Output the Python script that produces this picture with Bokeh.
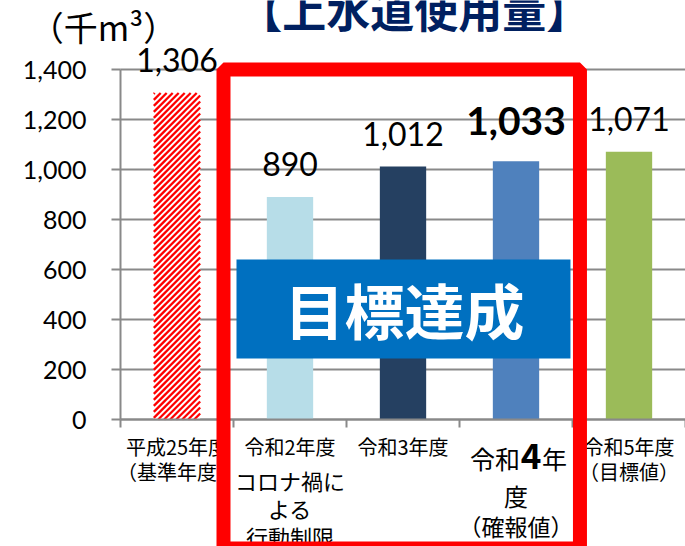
from bokeh.plotting import figure
from bokeh.models import (ColumnDataSource, Label, LabelSet, BoxAnnotation,
                          FixedTicker, NumeralTickFormatter)
from bokeh.core.properties import value
from bokeh.embed import file_html
from bokeh.resources import INLINE

# ---------------- data ----------------
categories = ["平成25年度", "令和2年度", "令和3年度", "令和4年度", "令和5年度"]
usage = [1306, 890, 1012, 1033, 1071]
usage_text = ["1,306", "890", "1,012", "1,033", "1,071"]
y_ticks = [0, 200, 400, 600, 800, 1000, 1200, 1400]
title_text = "【上水道使用量】"
unit_text = "（千m³）"
badge_text = "目標達成"
cat_sub_lines = {
    0: ["（基準年度）"],
    1: ["コロナ禍に", "よる", "行動制限"],
    4: ["（目標値）"],
}
cat3_parts = ["令和", "4", "年", "度", "（確報値）"]

# ---------------- styles ----------------
bar_colors = ["#FFFFFF", "#B7DDE8", "#254061", "#4F81BD", "#9BBB59"]
JP = "Noto Sans CJK JP"
NUM = "Lato"
GRID = "#898989"
BAR_W = 0.41

W, H = 685, 546
PX_X = 113.0   # px per category
PX_Y = 0.25    # px per unit
AX_X, AX_Y = 120, 419  # canvas position of the axes corner
n = len(categories)
x0 = -0.5 - AX_X / PX_X
x1 = -0.5 + (W - AX_X) / PX_X
y1 = AX_Y / PX_Y
y0 = -(H - AX_Y) / PX_Y

xs = list(range(n))

p = figure(width=W, height=H, output_backend="svg", toolbar_location=None,
           x_range=(x0, x1), y_range=(y0, y1),
           min_border_left=0, min_border_right=0, min_border_top=0,
           min_border_bottom=0)
p.outline_line_color = None
p.background_fill_color = "white"
p.border_fill_color = "white"

# gridlines (limited to the plotting region)
p.segment(x0=[-0.5] * len(y_ticks), x1=[n - 0.5] * len(y_ticks),
          y0=y_ticks, y1=y_ticks, line_color=GRID, line_width=2)
p.xgrid.grid_line_color = None
p.ygrid.grid_line_color = None

# axes at fixed locations
p.yaxis.fixed_location = -0.5
p.yaxis.bounds = (0, y_ticks[-1])
p.yaxis.ticker = FixedTicker(ticks=y_ticks)
p.yaxis.formatter = NumeralTickFormatter(format="0,0")
p.yaxis.major_label_text_font = NUM
p.yaxis.major_label_text_font_size = "25px"
p.yaxis.major_label_text_color = "black"
p.yaxis.major_label_standoff = 25
p.yaxis.major_tick_in = 0
p.yaxis.major_tick_out = 9
p.yaxis.minor_tick_line_color = None

xt = [i - 0.5 for i in range(n + 1)]
p.xaxis.fixed_location = 0
p.xaxis.bounds = (-0.5, n - 0.5)
p.xaxis.ticker = FixedTicker(ticks=xt)
p.xaxis.major_label_overrides = {t: "" for t in xt}
p.xaxis.major_tick_in = 0
p.xaxis.major_tick_out = 8
p.xaxis.minor_tick_line_color = None
for ax in (p.xaxis, p.yaxis):
    ax.axis_line_color = GRID
    ax.axis_line_width = 2
    ax.major_tick_line_color = GRID
    ax.major_tick_line_width = 2

# bars
src = ColumnDataSource(dict(x=xs, top=usage, color=bar_colors))
p.vbar(x="x", top="top", width=BAR_W, source=src, fill_color="color",
       line_color=None)

# diagonal red stripes on the base-year bar (computed from its value)
period = 6.0
L = (xs[0] - BAR_W / 2) * PX_X
R = (xs[0] + BAR_W / 2) * PX_X
T = usage[0] * PX_Y
sx0, sy0, sx1, sy1 = [], [], [], []
c = -(R - L)
while c < T:
    xa = max(L, L - c)
    xb = min(R, L + T - c)
    if xb > xa:
        sx0.append(xa / PX_X); sy0.append((xa - L + c) / PX_Y)
        sx1.append(xb / PX_X); sy1.append((xb - L + c) / PX_Y)
    c += period
p.segment(x0=sx0, y0=sy0, x1=sx1, y1=sy1, line_color="#FF0000",
          line_width=2.3, line_cap="butt")

# value labels
normal_idx = [0, 1, 2, 4]
bold_idx = [3]
src_n = ColumnDataSource(dict(x=[xs[i] for i in normal_idx],
                              y=[usage[i] for i in normal_idx],
                              text=[usage_text[i] for i in normal_idx]))
src_b = ColumnDataSource(dict(x=[xs[i] for i in bold_idx],
                              y=[usage[i] for i in bold_idx],
                              text=[usage_text[i] for i in bold_idx]))
p.add_layout(LabelSet(x="x", y="y", text="text", source=src_n, y_offset=33,
                      text_align="center", text_baseline="middle",
                      text_font=value(NUM), text_font_size="32px",
                      text_color="black"))
p.add_layout(LabelSet(x="x", y="y", text="text", source=src_b, y_offset=40,
                      text_align="center", text_baseline="middle",
                      text_font=value(NUM), text_font_size="39px",
                      text_font_style="bold", text_color="black"))


def lab(x, y, dy, text, size, bold=False, align="center", dx=0,
        color="black", font=JP):
    p.add_layout(Label(x=x, y=y, x_offset=dx, y_offset=dy, text=text,
                       text_font=font, text_font_size=f"{size}px",
                       text_font_style="bold" if bold else "normal",
                       text_align=align, text_baseline="middle",
                       text_color=color))


# category labels (anchored at the x axis, offsets in px)
lab(xs[0], 0, -27, categories[0], 20)
lab(xs[0], 0, -52, cat_sub_lines[0][0], 20)
lab(xs[1], 0, -27, categories[1], 20)
lab(xs[1], 0, -60, cat_sub_lines[1][0], 22)
lab(xs[1], 0, -88, cat_sub_lines[1][1], 22)
lab(xs[1], 0, -116, cat_sub_lines[1][2], 22)
lab(xs[2], 0, -27, categories[2], 20)
lab(xs[3], 0, -38, cat3_parts[0], 25, align="right", dx=4)
lab(xs[3], 0, -36, cat3_parts[1], 35, bold=True, dx=15)
lab(xs[3], 0, -38, cat3_parts[2], 25, align="left", dx=26)
lab(xs[3], 0, -76, cat3_parts[3], 24)
lab(xs[3], 0, -106, cat3_parts[4], 23)
lab(xs[4], 0, -27, categories[4], 20)
lab(xs[4], 0, -52, cat_sub_lines[4][0], 20)

# title and unit
lab(2.1, y_ticks[-1], 61, title_text, 44, bold=True, color="#002060")
lab(-0.65, y_ticks[-1], 43, unit_text, 34)

# "目標達成" badge
p.add_layout(BoxAnnotation(left=0.5265, right=3.482, top=640, bottom=244,
                           fill_color="#0070C0", fill_alpha=1.0,
                           line_color=None))
lab(2.013, 444, 0, badge_text, 60, bold=True, color="white")

# red highlight frame
p.add_layout(BoxAnnotation(left=0.4115, right=3.566, top=1400, bottom=-516,
                           fill_alpha=0, line_color="#FF0000", line_width=14,
                           line_alpha=1.0))

open("out.html", "w").write(file_html(p, INLINE))
